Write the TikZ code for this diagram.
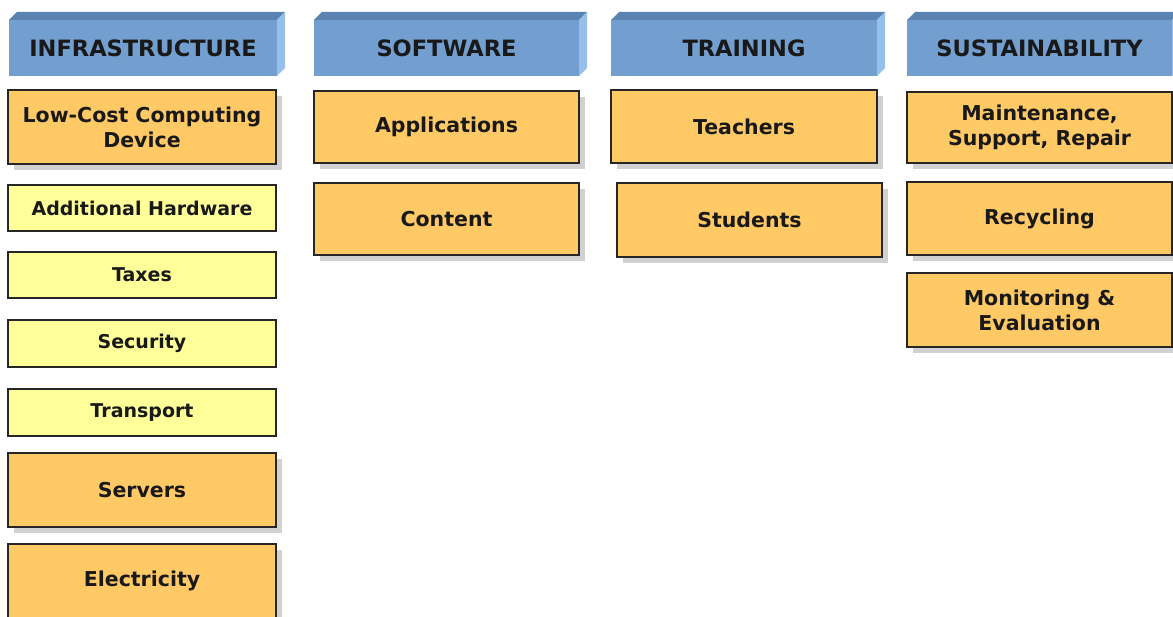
\documentclass[tikz,border=0pt]{standalone}
\usepackage{fontspec}
\setsansfont{DejaVu Sans}
\usetikzlibrary{shadows}

\definecolor{hdfront}{HTML}{729FCF}
\definecolor{hdtop}{HTML}{5A83B1}
\definecolor{hdside}{HTML}{96C0EA}
\definecolor{costorange}{HTML}{FFC966}
\definecolor{costyellow}{HTML}{FFFF99}

\tikzset{
    header/.style={fill=hdfront, inner sep=0, outer sep=0, minimum height=56pt,
        font=\sffamily\bfseries\fontsize{22.5}{26}\selectfont, text=black!90},
    costbox/.style={draw=black!85, line width=1.6pt, fill=costorange, inner sep=0, outer sep=0,
        align=center, font=\sffamily\bfseries\fontsize{20.5}{25}\selectfont, text=black!90,
        drop shadow={shadow xshift=6pt, shadow yshift=-6pt, fill=black!40, opacity=0.45}},
    minorbox/.style={draw=black!85, line width=1.2pt, fill=costyellow, inner sep=0, outer sep=0,
        minimum width=268pt, minimum height=46pt, align=center, text=black!90,
        font=\sffamily\bfseries\fontsize{19}{23}\selectfont}
}

\begin{document}
\begin{tikzpicture}[x=1pt, y=-1pt]

    \useasboundingbox (0,0) rectangle (1173,617);
    \clip (0,0) rectangle (1173,617);

    % column headers, drawn as blocks with a top and a side face
    \foreach \name/\cx/\w/\txt in {infra/143/268/INFRASTRUCTURE, soft/446.5/265/SOFTWARE,
                                   train/744/266/TRAINING, sust/1039.5/265/SUSTAINABILITY} {
        \node[header, minimum width=\w pt] (hd\name) at (\cx, 48) {\txt};
        \fill[hdtop] (hd\name.north west) -- ++(8,-8) -- ([shift={(8,-8)}]hd\name.north east)
            -- (hd\name.north east) -- cycle;
        \fill[hdside] (hd\name.north east) -- ++(8,-8) -- ++(0,56) -- (hd\name.south east) -- cycle;
    }

    % INFRASTRUCTURE
    \node[costbox, minimum width=268pt, minimum height=74pt] (device) at (142, 127) {Low-Cost Computing\\Device};
    \node[minorbox] (hardware) at (142, 208) {Additional Hardware};
    \node[minorbox] (taxes) at (142, 275) {Taxes};
    \node[minorbox, minimum height=47pt] (security) at (142, 343.5) {Security};
    \node[minorbox, minimum height=47pt] (transport) at (142, 412.5) {Transport};
    \node[costbox, minimum width=268pt, minimum height=74pt] (servers) at (142, 490) {Servers};
    \node[costbox, minimum width=268pt, minimum height=74pt] (electricity) at (142, 581) {Electricity};

    % SOFTWARE
    \node[costbox, minimum width=265pt, minimum height=72pt] (apps) at (446.5, 127) {Applications};
    \node[costbox, minimum width=265pt, minimum height=72pt] (content) at (446.5, 219) {Content};

    % TRAINING
    \node[costbox, minimum width=266pt, minimum height=73pt] (teachers) at (744, 126.5) {Teachers};
    \node[costbox, minimum width=265pt, minimum height=74pt] (students) at (749.5, 220) {Students};

    % SUSTAINABILITY
    \node[costbox, minimum width=265pt, minimum height=71pt] (maintenance) at (1039.5, 127.5) {Maintenance,\\Support, Repair};
    \node[costbox, minimum width=265pt, minimum height=73pt] (recycling) at (1039.5, 218.5) {Recycling};
    \node[costbox, minimum width=265pt, minimum height=74pt] (monitoring) at (1039.5, 310) {Monitoring \&\\Evaluation};

\end{tikzpicture}
\end{document}
